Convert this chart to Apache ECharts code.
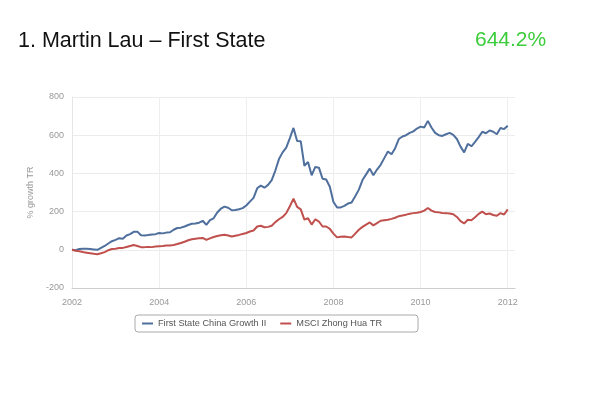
<!DOCTYPE html>
<html>
<head>
<meta charset="utf-8">
<script src="https://cdn.jsdelivr.net/npm/echarts@6/dist/echarts.min.js"></script>
<style>
  html, body { margin: 0; padding: 0; background: #fff; }
  #chart { width: 600px; height: 398px; }
</style>
</head>
<body>
<div id="chart"></div>
<script>
// monthly % growth, Jan 2002 .. Jan 2012
const fundName = "First State China Growth II";
const indexName = "MSCI Zhong Hua TR";

const fundValues = [
  0, -2, 4, 6, 5, 4, 2, 0, 10, 20, 33, 45,
  52, 61, 58, 75, 82, 94, 95, 76, 75, 77, 80, 82,
  88, 86, 90, 92, 105, 114, 116, 122, 130, 136, 138, 142,
  152, 130, 155, 165, 195, 215, 226, 220, 207, 208, 212, 218,
  232, 252, 272, 322, 336, 325, 340, 365, 415, 475, 510, 535,
  585, 638, 570, 568, 440, 460, 390, 434, 430, 372, 368, 330,
  250, 222, 222, 230, 242, 248, 280, 315, 365, 395, 425, 390,
  420, 445, 480, 515, 500, 532, 580, 593, 600, 612, 620, 635,
  645, 640, 675, 640, 612, 600, 596, 605, 612, 602, 580, 540,
  510, 555, 542, 565, 590, 618, 610, 625, 618, 605, 638, 632,
  650
];

const indexValues = [
  0, -5, -8, -12, -15, -18, -21, -23, -18, -12, -2, 4,
  6, 9, 10, 15, 20, 25, 20, 14, 14, 15, 14, 17,
  19, 20, 22, 23, 25, 30, 36, 42, 50, 55, 58, 60,
  62, 52, 60, 67, 72, 76, 79, 75, 70, 74, 78, 83,
  88, 96, 101, 122, 126, 118, 120, 126, 145, 160, 172, 192,
  228, 268, 225, 212, 158, 165, 132, 160, 148, 122, 122, 110,
  85, 65, 68, 70, 67, 65, 85, 105, 120, 132, 143, 128,
  140, 152, 155, 157, 162, 168, 176, 180, 184, 189, 192, 194,
  198, 205, 219, 205, 198, 196, 193, 192, 190, 186, 172, 150,
  138, 157, 155, 170, 188, 200, 186, 190, 182, 178, 192, 185,
  212
];

// month categories, a little past the last point so the plot runs on to the right
const months = [];
for (let y = 2002; y <= 2012; y++) {
  for (let m = 1; m <= 12; m++) {
    if (y === 2012 && m > 3) break;
    months.push(y + "-" + (m < 10 ? "0" + m : m));
  }
}

const yTicks = { min: -200, max: 800, step: 200 };

const isYearTick = (i) => i % 24 === 0;

const chart = echarts.init(document.getElementById("chart"));
chart.setOption({
  animation: false,
  textStyle: { fontFamily: "Liberation Sans, Arial, sans-serif" },
  title: [
    {
      text: "1. Martin Lau \u2013 First State",
      left: 13,
      top: 25,
      textStyle: { fontSize: 21.5, fontWeight: "normal", color: "#111" }
    },
    {
      text: "644.2%",
      left: 470,
      top: 25,
      textStyle: { fontSize: 21, fontWeight: "normal", color: "#3ccc3c" }
    }
  ],
  legend: {
    left: 135,
    top: 315,
    padding: [4, 36, 4, 7],
    borderColor: "#aaa",
    borderWidth: 1,
    borderRadius: 3,
    itemGap: 14,
    itemWidth: 11,
    itemHeight: 2,
    icon: "rect",
    textStyle: { fontSize: 9.2, color: "#555" },
    data: [fundName, indexName]
  },
  grid: { left: 72, right: 85, top: 97, bottom: 110 },
  xAxis: {
    type: "category",
    data: months,
    boundaryGap: false,
    axisLine: { onZero: false, lineStyle: { color: "#c8c8c8", type: "dotted" } },
    axisTick: { show: false },
    axisLabel: {
      interval: (i) => isYearTick(i),
      formatter: (v) => v.slice(0, 4),
      color: "#999",
      fontSize: 9,
      margin: 10
    },
    splitLine: {
      show: true,
      interval: (i) => isYearTick(i),
      lineStyle: { color: "#eeeeee" }
    }
  },
  yAxis: {
    type: "value",
    min: yTicks.min,
    max: yTicks.max,
    interval: yTicks.step,
    name: "% growth TR",
    nameLocation: "middle",
    nameGap: 28,
    nameTextStyle: { color: "#999", fontSize: 9 },
    axisLine: { show: true, lineStyle: { color: "#e6e6e6" } },
    axisTick: { show: false },
    axisLabel: { color: "#999", fontSize: 9, margin: 8 },
    splitLine: { lineStyle: { color: "#ececec" } }
  },
  series: [
    {
      name: fundName,
      type: "line",
      data: fundValues,
      showSymbol: false,
      color: "#4f6f9d",
      lineStyle: { width: 2, color: "#4f6f9d" }
    },
    {
      name: indexName,
      type: "line",
      data: indexValues,
      showSymbol: false,
      color: "#c0504d",
      lineStyle: { width: 2, color: "#c0504d" }
    }
  ]
});
</script>
</body>
</html>
